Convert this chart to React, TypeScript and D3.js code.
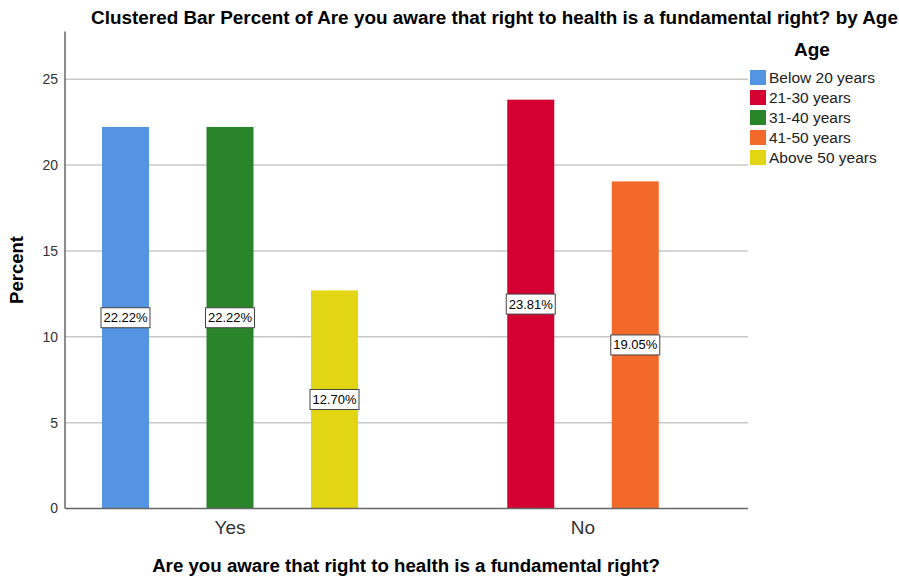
import React from 'react';
import * as d3 from 'd3';

const categories = ['Yes', 'No'];
const ageGroups = ['Below 20 years', '21-30 years', '31-40 years', '41-50 years', 'Above 50 years'];
const ageColors = ['#5494e3', '#d50032', '#2a852a', '#f3692a', '#e2d513'];

// percent per age group, one entry per category (null = no bar)
const below20 = [22.22, null];
const age21to30 = [null, 23.81];
const age31to40 = [22.22, null];
const age41to50 = [null, 19.05];
const above50 = [12.70, null];
const seriesValues = [below20, age21to30, age31to40, age41to50, above50];

const yTicks = [0, 5, 10, 15, 20, 25];

const W = 899;
const H = 578;
const left = 65;
const right = 748;
const top = 31.5;
const bottom = 508.5;
const font = 'Liberation Sans, Arial, sans-serif';

const App = () => {
  const y = d3.scaleLinear().domain([0, 27.78]).range([bottom, top]);
  const x = d3.scalePoint<string>().domain(categories).range([left, right]).padding(0.4674);
  const slot = 104.5;
  const fmt = d3.format('.2f');

  const groups = categories.map((cat, ci) => {
    const present = ageGroups
      .map((g, gi) => ({ g, gi, v: seriesValues[gi][ci] }))
      .filter((d) => d.v != null) as { g: string; gi: number; v: number }[];
    const cx = x(cat) as number;
    const inner = d3
      .scaleBand<string>()
      .domain(present.map((d) => d.g))
      .range([cx - (slot * present.length) / 2, cx + (slot * present.length) / 2])
      .paddingInner(0.55)
      .paddingOuter(0.275);
    return { cat, cx, present, inner };
  });

  return (
    <svg width={W} height={H} style={{ display: 'block', position: 'absolute', left: 0, top: 0 }}>
      <rect width={W} height={H} fill="white" />
      <text x={494.5} y={24} textAnchor="middle" fontFamily={font} fontWeight="bold" fontSize={18.9} fill="#000">
        Clustered Bar Percent of Are you aware that right to health is a fundamental right? by Age
      </text>

      {yTicks.map((t) => (
        <g key={t}>
          {t > 0 && <line x1={left} x2={right} y1={y(t)} y2={y(t)} stroke="#c8c8c8" strokeWidth={1.5} />}
          <text x={58} y={y(t)} dy="0.35em" textAnchor="end" fontFamily={font} fontSize={14} fill="#333">
            {t}
          </text>
        </g>
      ))}

      {groups.map(({ cat, cx, present, inner }) => (
        <g key={cat}>
          {present.map((d) => {
            const bx = inner(d.g) as number;
            const bw = inner.bandwidth();
            return (
              <rect key={d.g} x={bx} y={y(d.v)} width={bw} height={y(0) - y(d.v)} fill={ageColors[d.gi]} />
            );
          })}
          <text x={cx} y={527} dy="0.35em" textAnchor="middle" fontFamily={font} fontSize={19} fill="#333">
            {cat}
          </text>
        </g>
      ))}

      <line x1={left} x2={left} y1={top} y2={bottom} stroke="#666" strokeWidth={1.5} />
      <line x1={left} x2={right} y1={bottom} y2={bottom} stroke="#666" strokeWidth={1.5} />

      {groups.map(({ cat, present, inner }) =>
        present.map((d) => {
          const mx = (inner(d.g) as number) + inner.bandwidth() / 2;
          const my = y(d.v / 2);
          return (
            <g key={cat + d.g}>
              <rect x={mx - 24.5} y={my - 10} width={49} height={20} fill="white" stroke="#444" strokeWidth={1} />
              <text x={mx} y={my} dy="0.35em" textAnchor="middle" fontFamily={font} fontSize={13} fill="#000">
                {fmt(d.v)}%
              </text>
            </g>
          );
        })
      )}

      <text
        transform={`translate(23,${(top + bottom) / 2}) rotate(-90)`}
        textAnchor="middle"
        fontFamily={font}
        fontWeight="bold"
        fontSize={18.5}
        fill="#000"
      >
        Percent
      </text>
      <text x={406} y={572} textAnchor="middle" fontFamily={font} fontWeight="bold" fontSize={18.7} fill="#000">
        Are you aware that right to health is a fundamental right?
      </text>

      <text x={812} y={56} textAnchor="middle" fontFamily={font} fontWeight="bold" fontSize={19} fill="#000">
        Age
      </text>
      {ageGroups.map((g, i) => (
        <g key={g} transform={`translate(750,${70 + i * 20})`}>
          <rect width={16} height={15} fill={ageColors[i]} />
          <text x={19} y={8} dy="0.35em" fontFamily={font} fontSize={15.5} fill="#222">
            {g}
          </text>
        </g>
      ))}
    </svg>
  );
};

export default App;
